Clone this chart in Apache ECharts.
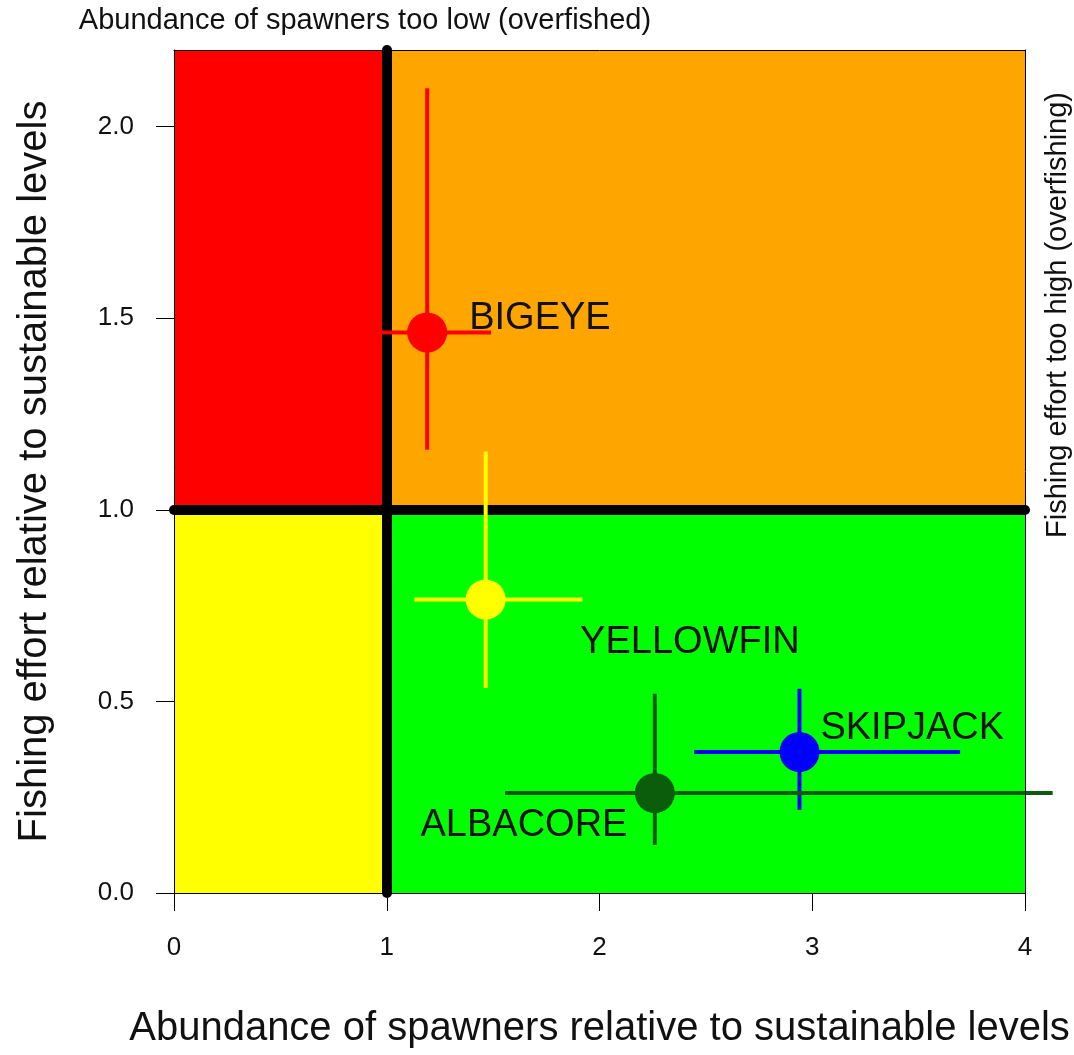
<!DOCTYPE html>
<html>
<head>
<meta charset="utf-8">
<script src="https://cdn.jsdelivr.net/npm/echarts@6/dist/echarts.min.js"></script>
<style>html,body{margin:0;padding:0;background:#fff}#c{width:1074px;height:1055px}</style>
</head>
<body>
<div id="c"></div>
<script>
// ---- data ----
const species    = ['BIGEYE', 'YELLOWFIN', 'SKIPJACK', 'ALBACORE'];
const spawners   = [1.19, 1.465, 2.94, 2.26];
const effort     = [1.463, 0.766, 0.368, 0.261];
const spawnersLo = [0.97, 1.13, 2.445, 1.556];
const spawnersHi = [1.49, 1.92, 3.695, 4.13];
const effortLo   = [1.157, 0.535, 0.217, 0.125];
const effortHi   = [2.10, 1.152, 0.533, 0.52];
const labelX     = [1.72, 2.425, 3.47, 1.645];
const labelY     = [1.50, 0.655, 0.43, 0.175];
const speciesColors = ['#FF0000', '#FFFF00', '#0000FF', '#0B5C0B'];

// quadrant zones: [xFrom, xTo, yFrom, yTo]
const zoneX0 = [0, 1, 0, 1];
const zoneX1 = [1, 4, 1, 4];
const zoneY0 = [1, 1, 0, 0];
const zoneY1 = [2.2, 2.2, 1, 1];
const zoneColors = ['#FF0000', '#FFA500', '#FFFF00', '#00FF00'];

const xTicks = [0, 1, 2, 3, 4];
const yTicks = [0, 0.5, 1, 1.5, 2];
const refX = 1, refY = 1;

const chart = echarts.init(document.getElementById('c'));
const axisFont = 'Liberation Sans, Arial, sans-serif';

const zoneData = zoneX0.map((v, i) => [zoneX0[i], zoneX1[i], zoneY0[i], zoneY1[i], i]);
const ptData = species.map((s, i) => [spawners[i], effort[i], spawnersLo[i], spawnersHi[i], effortLo[i], effortHi[i], i]);
const lblData = species.map((s, i) => [labelX[i], labelY[i], i]);

chart.setOption({
  animation: false,
  grid: { left: 174, right: 49, top: 50, bottom: 162, containLabel: false },
  xAxis: [{
    type: 'value', min: 0, max: 4, interval: 1, position: 'bottom', z: 10,
    axisLine: { show: true, onZero: false, lineStyle: { color: '#000', width: 1 } },
    axisTick: { show: true, length: 18, lineStyle: { color: '#000', width: 1 }, customValues: xTicks },
    axisLabel: { show: true, margin: 42, fontSize: 26, color: '#111', fontFamily: axisFont, customValues: xTicks },
    splitLine: { show: false },
    name: 'Abundance of spawners relative to sustainable levels',
    nameLocation: 'middle', nameGap: 116,
    nameTextStyle: { fontSize: 40, color: '#111', fontFamily: axisFont }
  }, {
    type: 'value', min: 0, max: 4, position: 'top', z: 10,
    axisLine: { show: true, onZero: false, lineStyle: { color: '#000', width: 1 } },
    axisTick: { show: false }, axisLabel: { show: false }, splitLine: { show: false }
  }],
  yAxis: [{
    type: 'value', min: 0, max: 2.2, position: 'left', z: 10,
    axisLine: { show: true, onZero: false, lineStyle: { color: '#000', width: 1 } },
    axisTick: { show: true, length: 18, lineStyle: { color: '#000', width: 1 }, customValues: yTicks },
    axisLabel: { show: true, margin: 40, fontSize: 26, color: '#111', fontFamily: axisFont,
      customValues: yTicks, formatter: v => v.toFixed(1) },
    splitLine: { show: false },
    name: 'Fishing effort relative to sustainable levels',
    nameLocation: 'middle', nameGap: 119,
    nameTextStyle: { fontSize: 40, color: '#111', fontFamily: axisFont }
  }, {
    type: 'value', min: 0, max: 2.2, position: 'right', z: 10,
    axisLine: { show: true, onZero: false, lineStyle: { color: '#000', width: 1 } },
    axisTick: { show: false }, axisLabel: { show: false }, splitLine: { show: false }
  }],
  graphic: [
    { type: 'text', x: 365, y: 21, style: { text: 'Abundance of spawners too low (overfished)', fontSize: 29, fill: '#111', fontFamily: axisFont, align: 'center', verticalAlign: 'middle' } },
    { type: 'text', x: 1058, y: 315, rotation: Math.PI / 2,
      style: { text: 'Fishing effort too high (overfishing)', fontSize: 29, fill: '#111', fontFamily: axisFont, align: 'center', verticalAlign: 'middle' } }
  ],
  series: [{
    type: 'custom', name: 'zones', z: 1, clip: true,
    data: zoneData,
    encode: { x: [0, 1], y: [2, 3] },
    renderItem: (params, api) => {
      const p0 = api.coord([api.value(0), api.value(3)]);
      const p1 = api.coord([api.value(1), api.value(2)]);
      return { type: 'rect', shape: { x: p0[0], y: p0[1], width: p1[0] - p0[0], height: p1[1] - p0[1] },
        style: { fill: zoneColors[api.value(4)] } };
    },
    markLine: {
      silent: true, symbol: 'none', label: { show: false },
      lineStyle: { color: '#000', width: 10, type: 'solid', cap: 'round' },
      data: [{ xAxis: refX }, { yAxis: refY }]
    }
  }, {
    type: 'custom', name: 'stocks', z: 5, clip: false,
    data: ptData,
    encode: { x: [0, 2, 3], y: [1, 4, 5] },
    renderItem: (params, api) => {
      const i = api.value(6);
      const c = api.coord([api.value(0), api.value(1)]);
      const xl = api.coord([api.value(2), api.value(1)]);
      const xh = api.coord([api.value(3), api.value(1)]);
      const yl = api.coord([api.value(0), api.value(4)]);
      const yh = api.coord([api.value(0), api.value(5)]);
      const col = speciesColors[i];
      return { type: 'group', children: [
        { type: 'line', shape: { x1: xl[0], y1: xl[1], x2: xh[0], y2: xh[1] }, style: { stroke: col, lineWidth: 4 } },
        { type: 'line', shape: { x1: yl[0], y1: yl[1], x2: yh[0], y2: yh[1] }, style: { stroke: col, lineWidth: 4 } },
        { type: 'circle', shape: { cx: c[0], cy: c[1], r: 20 }, style: { fill: col } }
      ] };
    }
  }, {
    type: 'custom', name: 'labels', z: 6, clip: false,
    data: lblData,
    encode: { x: 0, y: 1 },
    renderItem: (params, api) => {
      const p = api.coord([api.value(0), api.value(1)]);
      return { type: 'text', x: p[0], y: p[1],
        style: { text: species[api.value(2)], fontSize: 38, fill: '#111', fontFamily: axisFont, align: 'center', verticalAlign: 'middle' } };
    }
  }]
});
</script>
</body>
</html>
